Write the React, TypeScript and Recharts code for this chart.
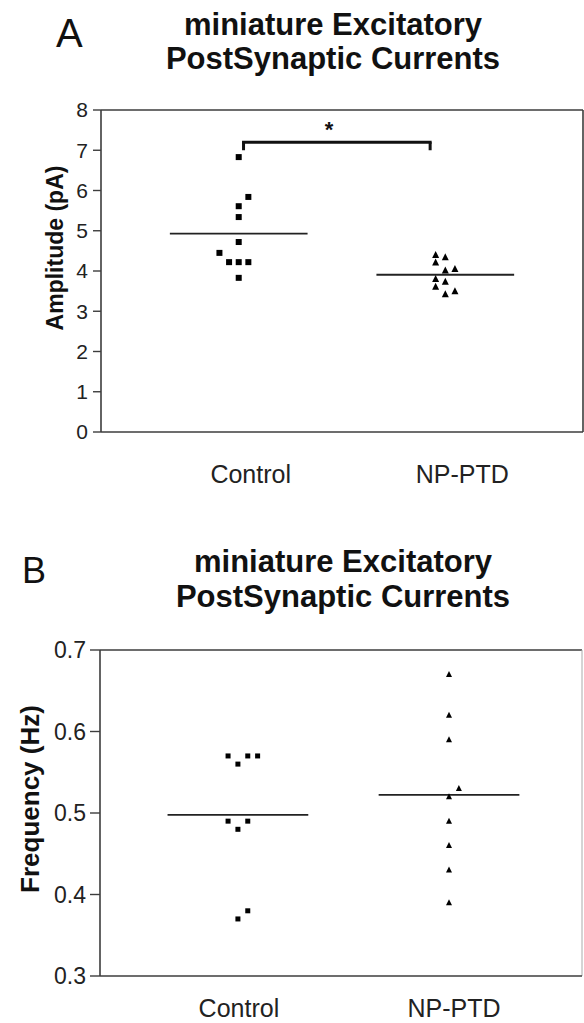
import React from 'react';
import { ScatterChart, Scatter, XAxis, YAxis, ReferenceLine, ReferenceDot } from 'recharts';

// ---- data ----
const categories = ['Control', 'NP-PTD'];
const categoryPos = [2, 5];

const ampTicks = [0, 1, 2, 3, 4, 5, 6, 7, 8];
const freqTicks = [0.3, 0.4, 0.5, 0.6, 0.7];

const ampControl = [6.83, 5.84, 5.61, 5.34, 4.72, 4.45, 4.22, 4.22, 4.22, 3.83];
const ampControlSlot = [0, 1, 0, 0, 0, -2, -1, 0, 1, 0];
const ampNp = [4.40, 4.34, 4.21, 4.01, 4.05, 3.80, 3.73, 3.61, 3.42, 3.50];
const ampNpSlot = [-1, 0, -1, 0, 1, -1, 0, -1, 0, 1];

const freqControl = [0.57, 0.57, 0.57, 0.56, 0.49, 0.49, 0.48, 0.38, 0.37];
const freqControlSlot = [-1, 1, 2, 0, -1, 1, 0, 1, 0];
const freqNp = [0.67, 0.62, 0.59, 0.53, 0.52, 0.49, 0.46, 0.43, 0.39];
const freqNpSlot = [0, 0, 0, 1, 0, 0, 0, 0, 0];

const sigBracket = { from: 2.07, to: 4.78, y: 7.2, base: 7.0, label: '*' };

// ---- helpers ----
const FONT = '"Liberation Sans", Arial, Helvetica, sans-serif';
const AXIS = '#3d3d3d';
const STEP = 0.14;

const mean = (v: number[]) => v.reduce((a, b) => a + b, 0) / v.length;
const toPoints = (vals: number[], slots: number[], cat: number) =>
  vals.map((v, i) => ({ x: categoryPos[cat] + slots[i] * STEP, y: v }));

const makeSquare = (s: number) => (props: any) => {
  const { cx, cy } = props;
  return <rect x={cx - s / 2} y={cy - s / 2} width={s} height={s} fill="#000" />;
};
const makeTri = (s: number) => (props: any) => {
  const { cx, cy } = props;
  const h = s / 2;
  return <path d={`M${cx},${cy - h - 0.5}L${cx + h},${cy + h - 0.5}L${cx - h},${cy + h - 0.5}Z`} fill="#000" />;
};

const makeCatTick = (fontSize: number, dy: number, dxs: number[]) => (props: any) => {
  const { x, y, payload } = props;
  const idx = categoryPos.indexOf(payload.value);
  return (
    <text x={x + (dxs[idx] || 0)} y={y + dy} textAnchor="middle" fontSize={fontSize} fill="#222" fontFamily={FONT}>
      {categories[idx]}
    </text>
  );
};

const makeYLabel = (text: string, fontSize: number, cx: number, dyCenter: number) => (props: any) => {
  const vb = props.viewBox || { x: 0, y: 0, width: 0, height: 0 };
  const x = vb.x + cx;
  const y = vb.y + vb.height / 2 + dyCenter;
  return (
    <text x={x} y={y} transform={`rotate(-90, ${x}, ${y})`} textAnchor="middle" dominantBaseline="central"
      fontSize={fontSize} fontWeight="bold" fill="#111" fontFamily={FONT}>
      {text}
    </text>
  );
};

const ChartA = () => {
  const c = toPoints(ampControl, ampControlSlot, 0);
  const n = toPoints(ampNp, ampNpSlot, 1);
  const mc = mean(ampControl);
  const mn = mean(ampNp);
  return (
    <ScatterChart width={584} height={500} margin={{ top: 110, right: 1, left: 0, bottom: 38 }}>
      <XAxis type="number" dataKey="x" domain={[0, 7]} ticks={categoryPos} height={30}
        axisLine={{ stroke: AXIS, strokeWidth: 1.6 }} tickLine={false} tickSize={0}
        tick={makeCatTick(25, 49, [12, 17])} />
      <YAxis type="number" dataKey="y" domain={[0, 8]} ticks={ampTicks} width={101} interval={0}
        axisLine={{ stroke: AXIS, strokeWidth: 1.6 }} tickLine={{ stroke: AXIS, strokeWidth: 1.4 }}
        tickSize={8} tickMargin={5}
        tick={{ fontSize: 21, fill: '#222', fontFamily: FONT }}
        label={{ content: makeYLabel('Amplitude (pA)', 23, 55, -23) }} />
      <ReferenceLine y={8} stroke={AXIS} strokeWidth={1.6} />
      <ReferenceLine x={7} stroke={AXIS} strokeWidth={1.6} />
      <ReferenceLine segment={[{ x: categoryPos[0] - 1, y: mc }, { x: categoryPos[0] + 1, y: mc }]} stroke="#222" strokeWidth={1.8} />
      <ReferenceLine segment={[{ x: categoryPos[1] - 1, y: mn }, { x: categoryPos[1] + 1, y: mn }]} stroke="#222" strokeWidth={1.8} />
      <ReferenceLine segment={[{ x: sigBracket.from, y: sigBracket.y }, { x: sigBracket.to, y: sigBracket.y }]} stroke="#111" strokeWidth={3} strokeLinecap="square" />
      <ReferenceLine segment={[{ x: sigBracket.from, y: sigBracket.base }, { x: sigBracket.from, y: sigBracket.y }]} stroke="#111" strokeWidth={3} />
      <ReferenceLine segment={[{ x: sigBracket.to, y: sigBracket.base }, { x: sigBracket.to, y: sigBracket.y }]} stroke="#111" strokeWidth={3} />
      <ReferenceDot x={3.31} y={7.33} r={0.01} fill="none" stroke="none"
        label={{
          content: (p: any) => {
            const vb = p.viewBox || { x: 0, y: 0 };
            return <text x={vb.x} y={vb.y} textAnchor="middle" fontSize={22} fontWeight="bold" fill="#111" fontFamily={FONT}>{sigBracket.label}</text>;
          },
        }} />
      <Scatter data={c} shape={makeSquare(6)} isAnimationActive={false} />
      <Scatter data={n} shape={makeTri(7)} isAnimationActive={false} />
    </ScatterChart>
  );
};

const ChartB = () => {
  const c = toPoints(freqControl, freqControlSlot, 0);
  const n = toPoints(freqNp, freqNpSlot, 1);
  const mc = mean(freqControl);
  const mn = mean(freqNp);
  return (
    <ScatterChart width={584} height={503} margin={{ top: 130, right: 2, left: 0, bottom: 17 }}>
      <XAxis type="number" dataKey="x" domain={[0.04, 6.89]} ticks={categoryPos} height={30}
        axisLine={{ stroke: AXIS, strokeWidth: 1.6 }} tickLine={false} tickSize={0}
        tick={makeCatTick(25, 39, [1, 5])} allowDataOverflow />
      <YAxis type="number" dataKey="y" domain={[0.3, 0.7]} ticks={freqTicks} width={100} interval={0}
        axisLine={{ stroke: AXIS, strokeWidth: 1.6 }} tickLine={{ stroke: AXIS, strokeWidth: 1.4 }}
        tickSize={10} tickMargin={4}
        tick={{ fontSize: 23, fill: '#222', fontFamily: FONT }}
        label={{ content: makeYLabel('Frequency (Hz)', 26, 30, -14) }} />
      <ReferenceLine y={0.7} stroke={AXIS} strokeWidth={1.6} />
      <ReferenceLine x={6.89} stroke="#aaa" strokeWidth={1} />
      <ReferenceLine segment={[{ x: categoryPos[0] - 1, y: mc }, { x: categoryPos[0] + 1, y: mc }]} stroke="#222" strokeWidth={1.8} />
      <ReferenceLine segment={[{ x: categoryPos[1] - 1, y: mn }, { x: categoryPos[1] + 1, y: mn }]} stroke="#222" strokeWidth={1.8} />
      <Scatter data={c} shape={makeSquare(5)} isAnimationActive={false} />
      <Scatter data={n} shape={makeTri(6)} isAnimationActive={false} />
    </ScatterChart>
  );
};

const Titles = () => (
  <svg width={584} height={1023} style={{ position: 'absolute', left: 0, top: 0, pointerEvents: 'none' }}>
    <g fontFamily={FONT} fill="#111">
      <text x={56} y={47} fontSize={40}>A</text>
      <text x={333} y={35} fontSize={31} fontWeight="bold" textAnchor="middle">miniature Excitatory</text>
      <text x={333} y={69} fontSize={31} fontWeight="bold" textAnchor="middle">PostSynaptic Currents</text>
      <text x={22} y={583} fontSize={36}>B</text>
      <text x={343} y={572} fontSize={31} fontWeight="bold" textAnchor="middle">miniature Excitatory</text>
      <text x={343} y={607} fontSize={31} fontWeight="bold" textAnchor="middle">PostSynaptic Currents</text>
    </g>
  </svg>
);

export default function App() {
  return (
    <div style={{ position: 'absolute', left: 0, top: 0, width: 584, height: 1023, background: '#fff', overflow: 'hidden' }}>
      <div style={{ position: 'absolute', left: 0, top: 0 }}>
        <ChartA />
      </div>
      <div style={{ position: 'absolute', left: 0, top: 520 }}>
        <ChartB />
      </div>
      <Titles />
    </div>
  );
}
